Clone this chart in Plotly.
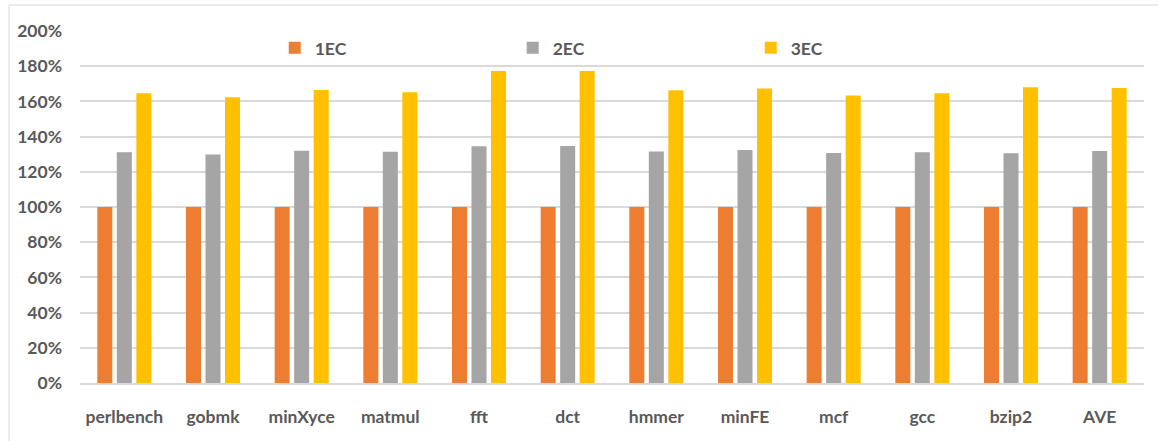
import plotly.graph_objects as go

categories = ["perlbench", "gobmk", "minXyce", "matmul", "fft", "dct",
              "hmmer", "minFE", "mcf", "gcc", "bzip2", "AVE"]
ec1 = [100, 100, 100, 100, 100, 100, 100, 100, 100, 100, 100, 100]
ec2 = [131.1, 129.9, 132.0, 131.4, 134.5, 134.7, 131.6, 132.4, 130.7, 131.1, 130.5, 131.8]
ec3 = [164.6, 162.3, 166.5, 165.2, 177.3, 177.3, 166.3, 167.4, 163.4, 164.6, 168.0, 167.6]
series_names = ["1EC", "2EC", "3EC"]
series_colors = ["#ED7D31", "#A5A5A5", "#FFC000"]
y_ticks = list(range(0, 201, 20))

FONT = "Lato"
TEXT = "#595959"
tick_font = dict(family=FONT, size=17.5, color=TEXT, weight="bold")

fig = go.Figure()
for name, vals, col in zip(series_names, [ec1, ec2, ec3], series_colors):
    fig.add_trace(go.Bar(x=categories, y=vals, name=name,
                         marker=dict(color=col, line=dict(width=0))))

fig.update_layout(
    width=1158, height=441,
    margin=dict(l=80, r=14, t=31, b=58),
    plot_bgcolor="white", paper_bgcolor="white",
    barmode="group", bargap=0.34, bargroupgap=0.23,
    font=dict(family=FONT, size=17.5, color=TEXT),
    legend=dict(orientation="h", x=0.183, y=0.952, xanchor="left", yanchor="middle",
                entrywidth=193, entrywidthmode="pixels",
                font=tick_font, bgcolor="rgba(0,0,0,0)"),
    xaxis=dict(showgrid=False, showline=True, linecolor="#D9D9D9", linewidth=2,
               ticks="", tickfont=tick_font, ticklabelstandoff=17, automargin=False),
    yaxis=dict(range=[0, 200], tickvals=y_ticks, ticktext=[f"{v}%" for v in y_ticks],
               showgrid=True, gridcolor="#D9D9D9", gridwidth=2, zeroline=False,
               showline=False, ticks="", ticklabelstandoff=17, tickfont=tick_font,
               automargin=False),
    shapes=[dict(type="rect", xref="paper", yref="paper",
                 x0=-0.0667, x1=1.05, y0=-0.3, y1=1.0739,
                 line=dict(color="#D9D9D9", width=1), fillcolor="rgba(0,0,0,0)",
                 layer="below")],
)

fig.write_html("out.html")
